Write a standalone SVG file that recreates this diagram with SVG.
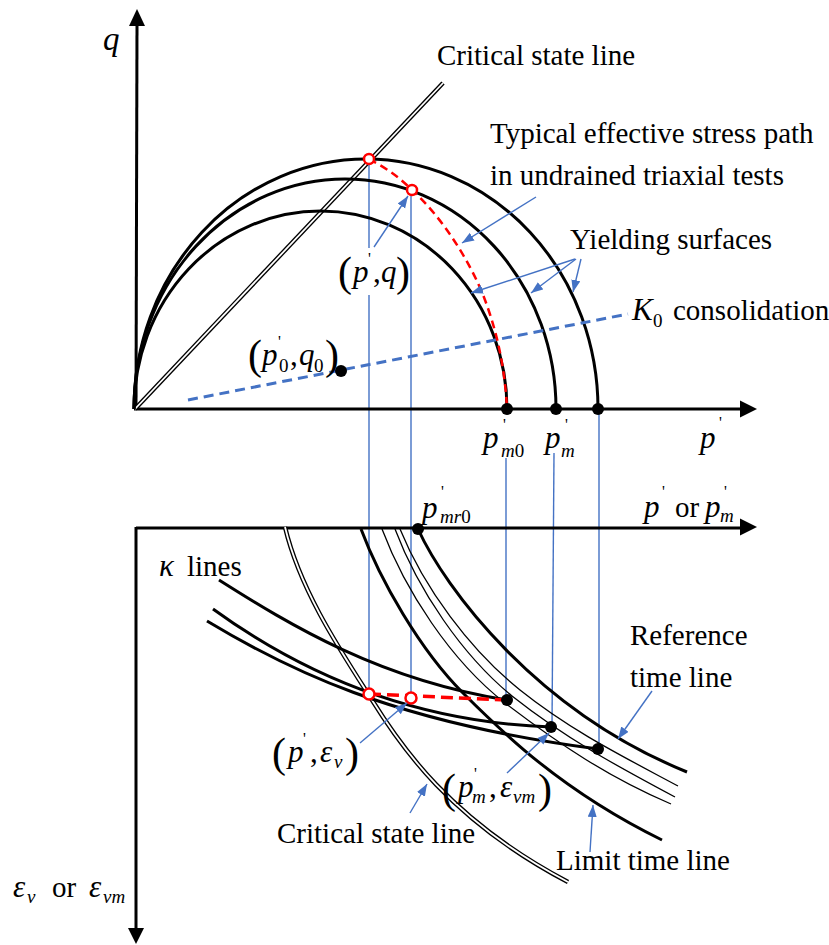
<svg xmlns="http://www.w3.org/2000/svg" width="829" height="945" viewBox="0 0 829 945">
<defs>
<style>
.ax{stroke:#000;stroke-width:3;fill:none}
.cv{stroke:#000;stroke-width:3;fill:none}
.th{stroke:#000;stroke-width:1.3;fill:none}
.dblb{stroke:#000;stroke-width:4.5;fill:none}
.dblw{stroke:#fff;stroke-width:1.8;fill:none}
.bl{stroke:#4472C4;stroke-width:1.4;fill:none}
.ba{stroke:#4472C4;stroke-width:1.4;fill:none;marker-end:url(#ah)}
.rd{stroke:#FF0000;fill:none;stroke-dasharray:8 5;stroke-width:2.5}
.rc{stroke:#FF0000;stroke-width:2.5;fill:#fff}
text{font-family:'Liberation Serif','Times New Roman',serif;fill:#000}
.t{font-size:29px}
.m{font-size:31px;font-style:italic}
.s{font-size:19px}
.n{font-style:normal}
.pr{font-size:16px;font-style:normal}
.pa{font-size:42px;font-style:normal}
</style>
<marker id="ah" markerUnits="userSpaceOnUse" markerWidth="14" markerHeight="10" refX="12" refY="4.5" orient="auto">
<path d="M0,0 L12,4.5 L0,9 z" fill="#4472C4"/>
</marker>
</defs>
<rect width="829" height="945" fill="#fff"/>

<g id="projection-lines">
<line class="bl" x1="369" y1="159" x2="369" y2="694"/>
<line class="bl" x1="411" y1="190" x2="411" y2="698"/>
<line class="bl" x1="506" y1="458" x2="506" y2="700"/>
<line class="bl" x1="554" y1="453" x2="552" y2="727"/>
<line class="bl" x1="599" y1="409" x2="599" y2="749"/>
<rect x="339" y="248" width="70" height="47" fill="#fff"/>
</g>

<g id="upper-axes">
<line class="ax" x1="136" y1="410" x2="137" y2="24"/>
<polygon points="137,9 129,26 145,26" fill="#000"/>
<line class="ax" x1="134" y1="409" x2="742" y2="409"/>
<polygon points="757,409 740,400.5 740,417.5" fill="#000"/>
</g>

<g id="upper-csl">
<line class="dblb" x1="135" y1="409" x2="443" y2="83"/>
<line class="dblw" x1="135" y1="409" x2="443" y2="83"/>
</g>

<g id="yield-surfaces">
<path class="cv" d="M134,409 A186.5,198 0 0 1 507,409"/>
<path class="cv" d="M134,409 A211,230 0 0 1 556,409"/>
<path class="cv" d="M134,409 A232,250 0 0 1 598,409"/>
</g>

<g id="k0-line">
<line x1="188" y1="400" x2="628" y2="314" stroke="#4472C4" stroke-width="3" stroke-dasharray="10 6"/>
</g>

<g id="stress-path">
<path class="rd" d="M369,159 C390,170 402,180 412,190 C440,215 470,260 485,300 C498,335 505,370 507,409"/>
<circle class="rc" cx="369" cy="159" r="5"/>
<circle class="rc" cx="412" cy="190" r="5"/>
</g>

<g id="upper-points">
<circle cx="507" cy="409" r="6"/>
<circle cx="556" cy="409" r="6"/>
<circle cx="598" cy="409" r="6"/>
<circle cx="341" cy="371" r="6"/>
</g>

<g id="lower-axes">
<line class="ax" x1="136" y1="528" x2="742" y2="528"/>
<polygon points="757,527 740,518.5 740,535.5" fill="#000"/>
<line class="ax" x1="136" y1="527" x2="136" y2="930"/>
<polygon points="136,944 128,928 144,928" fill="#000"/>
</g>

<g id="lower-csl">
<path class="dblb" d="M285,527 C300,590 340,650 372,700 C400,745 450,820 568,882"/>
<path class="dblw" d="M285,527 C300,590 340,650 372,700 C400,745 450,820 568,882"/>
</g>

<g id="limit-time-line">
<path class="cv" d="M361,529 C380,580 420,650 463,693 C500,730 560,790 662,840"/>
</g>

<g id="time-lines">
<path class="th" d="M382,529 C405,590 450,660 505,703 C560,745 610,778 671,804"/>
<path class="th" d="M395,529 C418,590 462,655 512,696 C565,738 615,765 675,797"/>
<path class="th" d="M400,529 C424,588 470,650 520,690 C570,730 620,755 678,786"/>
</g>

<g id="reference-time-line">
<path class="cv" d="M418,529 C445,588 535,710 687,772"/>
</g>

<g id="kappa-lines">
<path class="cv" d="M219,580 C290,625 380,680 507,700"/>
<path class="cv" d="M213,609 C290,665 400,722 551,727"/>
<path class="cv" d="M207,621 C285,668 390,722 598,749"/>
</g>

<g id="lower-path">
<line x1="369" y1="694" x2="507" y2="700" stroke="#FF0000" stroke-width="3.5" stroke-dasharray="12 6"/>
<circle class="rc" cx="369" cy="694" r="5.5"/>
<circle class="rc" cx="411" cy="698" r="5.5"/>
</g>

<g id="lower-points">
<circle cx="418" cy="529" r="6"/>
<circle cx="507" cy="700" r="6"/>
<circle cx="551" cy="727" r="6"/>
<circle cx="598" cy="749" r="6"/>
</g>

<g id="connectors">
<line class="ba" x1="374" y1="247" x2="408" y2="196"/>
<line class="ba" x1="536" y1="197" x2="462" y2="243"/>
<line class="ba" x1="575" y1="259" x2="471" y2="293"/>
<line class="ba" x1="576" y1="259" x2="531" y2="293"/>
<line class="ba" x1="581" y1="259" x2="573" y2="292"/>
<line class="ba" x1="360" y1="743" x2="407" y2="703"/>
<line class="ba" x1="410" y1="813" x2="427" y2="784"/>
<line class="ba" x1="507" y1="773" x2="549" y2="733"/>
<line class="ba" x1="590" y1="852" x2="593" y2="805"/>
<line class="ba" x1="652" y1="691" x2="618" y2="739"/>
</g>

<g id="labels">
<text class="m" x="103" y="50" style="font-size:33px">q</text>
<text class="t" x="437" y="65">Critical state line</text>
<text class="t" x="490" y="143">Typical effective stress path</text>
<text class="t" x="490" y="185">in undrained triaxial tests</text>
<text class="t" x="570" y="249">Yielding surfaces</text>
<text class="m" x="632" y="320">K<tspan class="s n" x="653" y="327">0</tspan><tspan class="t n" x="673" y="320">consolidation</tspan></text>

<text class="m" x="353" y="282"><tspan class="pa" x="338" y="286">(</tspan><tspan x="353" y="282">p</tspan><tspan class="pr" x="368" y="264">'</tspan><tspan class="n" x="373" y="282">,</tspan><tspan x="381" y="282">q</tspan><tspan class="pa" x="396" y="286">)</tspan></text>

<text class="m" x="262" y="365"><tspan class="pa" x="248" y="369">(</tspan><tspan x="262" y="365">p</tspan><tspan class="pr" x="278" y="347">'</tspan><tspan class="s n" x="279" y="372">0</tspan><tspan class="n" x="290" y="365">,</tspan><tspan x="299" y="365">q</tspan><tspan class="s n" x="314" y="372">0</tspan><tspan class="pa" x="325" y="369">)</tspan></text>

<text class="m" x="483" y="448">p<tspan class="pr" x="503" y="430">'</tspan><tspan class="s" x="501" y="457">m</tspan><tspan class="s n">0</tspan></text>
<text class="m" x="545" y="448">p<tspan class="pr" x="565" y="430">'</tspan><tspan class="s" x="561" y="457">m</tspan></text>
<text class="m" x="700" y="448">p<tspan class="pr" x="719" y="428">'</tspan></text>

<text class="m" x="422" y="518">p<tspan class="pr" x="441" y="497">'</tspan><tspan class="s" x="440" y="523">mr</tspan><tspan class="s n">0</tspan></text>
<text class="m" x="644" y="517">p<tspan class="pr" x="662" y="497">'</tspan><tspan class="t n" x="675" y="517">or</tspan><tspan x="705" y="517">p</tspan><tspan class="pr" x="724" y="497">'</tspan><tspan class="s" x="720" y="522">m</tspan></text>

<text class="m" x="159" y="576">κ<tspan class="t n" x="187" y="576">lines</tspan></text>
<text class="t" x="630" y="645">Reference</text>
<text class="t" x="630" y="687">time line</text>

<text class="m" x="288" y="762"><tspan class="pa" x="272" y="767">(</tspan><tspan x="288" y="762">p</tspan><tspan class="pr" x="303" y="744">'</tspan><tspan class="n" x="310" y="762">,</tspan><tspan x="320" y="762">ε</tspan><tspan class="s" x="334" y="768">v</tspan><tspan class="pa" x="345" y="767">)</tspan></text>

<text class="m" x="458" y="797"><tspan class="pa" x="442" y="803">(</tspan><tspan x="458" y="797">p</tspan><tspan class="pr" x="474" y="779">'</tspan><tspan class="s" x="472" y="803">m</tspan><tspan class="n" x="489" y="797">,</tspan><tspan x="500" y="797">ε</tspan><tspan class="s" x="513" y="803">vm</tspan><tspan class="pa" x="538" y="803">)</tspan></text>

<text class="t" x="277" y="843">Critical state line</text>
<text class="t" x="556" y="870">Limit time line</text>

<text class="m" x="13" y="897">ε<tspan class="s" x="27" y="903">v</tspan><tspan class="t n" x="52" y="897">or</tspan><tspan x="89" y="897">ε</tspan><tspan class="s" x="103" y="903">vm</tspan></text>
</g>
</svg>
